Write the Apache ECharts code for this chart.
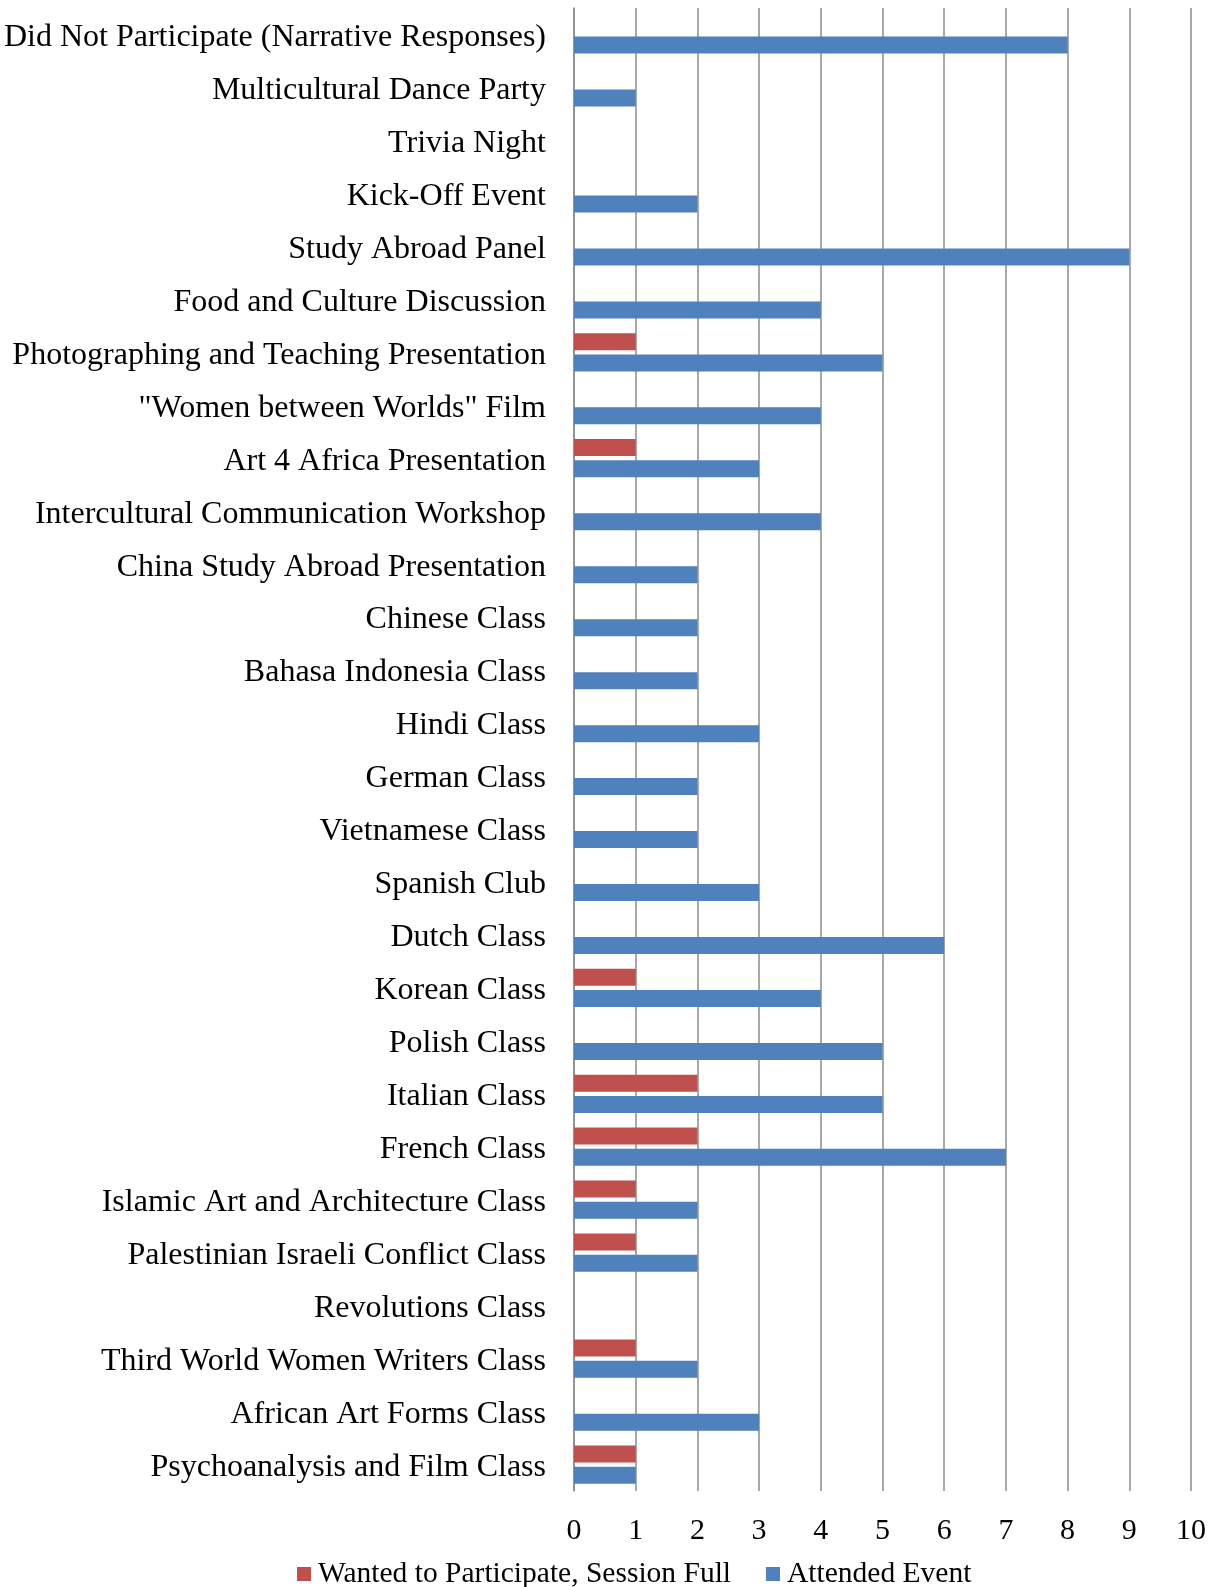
<!DOCTYPE html>
<html>
<head>
<meta charset="utf-8">
<script src="https://cdn.jsdelivr.net/npm/echarts@6/dist/echarts.min.js"></script>
<style>
html,body{margin:0;padding:0;background:#fff;}
#chart{width:1217px;height:1587px;}
</style>
</head>
<body>
<div id="chart"></div>
<script>
// Categories listed top to bottom as shown
const categories = [
  'Did Not Participate (Narrative Responses)',
  'Multicultural Dance Party',
  'Trivia Night',
  'Kick-Off Event',
  'Study Abroad Panel',
  'Food and Culture Discussion',
  'Photographing and Teaching Presentation',
  '"Women between Worlds" Film',
  'Art 4 Africa Presentation',
  'Intercultural Communication Workshop',
  'China Study Abroad Presentation',
  'Chinese Class',
  'Bahasa Indonesia Class',
  'Hindi Class',
  'German Class',
  'Vietnamese Class',
  'Spanish Club',
  'Dutch Class',
  'Korean Class',
  'Polish Class',
  'Italian Class',
  'French Class',
  'Islamic Art and Architecture Class',
  'Palestinian Israeli Conflict Class',
  'Revolutions Class',
  'Third World Women Writers Class',
  'African Art Forms Class',
  'Psychoanalysis and Film Class'
];
const wantedSessionFull = [0,0,0,0,0,0,1,0,1,0,0,0,0,0,0,0,0,0,1,0,2,2,1,1,0,1,0,1];
const attendedEvent     = [8,1,0,2,9,4,5,4,3,4,2,2,2,3,2,2,3,6,4,5,5,7,2,2,0,2,3,1];
const xTicks = [0,1,2,3,4,5,6,7,8,9,10];

const font = '"Liberation Serif", "Times New Roman", serif';
const chart = echarts.init(document.getElementById('chart'), null, {renderer:'canvas'});
chart.setOption({
  animation:false,
  backgroundColor:'#ffffff',
  textStyle:{fontFamily:font},
  grid:{left:574, right:26, top:8, bottom:96, containLabel:false},
  legend:{
    left:292, top:1554,
    itemWidth:14, itemHeight:14, itemGap:35,
    icon:'rect',
    textStyle:{fontFamily:font, fontSize:29.5, color:'#000', padding:[0,0,0,2]},
    data:['Wanted to Participate, Session Full','Attended Event']
  },
  xAxis:{
    type:'value', min:xTicks[0], max:xTicks[xTicks.length-1], interval:1,
    axisLine:{show:false}, axisTick:{show:false},
    splitLine:{show:true, lineStyle:{color:'#8c8c8c', width:1.5}},
    axisLabel:{fontFamily:font, fontSize:30, color:'#000', margin:25}
  },
  yAxis:{
    type:'category', data:categories, inverse:true,
    axisLine:{show:true, lineStyle:{color:'#8c8c8c', width:1.5}},
    axisTick:{show:false},
    axisLabel:{
      margin:28,
      formatter: v => '{a|' + v + '}',
      rich:{a:{fontFamily:font, fontSize:32, color:'#000', padding:[6,0,0,0]}}
    }
  },
  series:[
    {name:'Wanted to Participate, Session Full', type:'bar', data:wantedSessionFull,
     itemStyle:{color:'#C0504D'}, barWidth:17, barGap:'25%'},
    {name:'Attended Event', type:'bar', data:attendedEvent,
     itemStyle:{color:'#4F81BD'}, barWidth:17, barGap:'25%'}
  ]
});
</script>
</body>
</html>
